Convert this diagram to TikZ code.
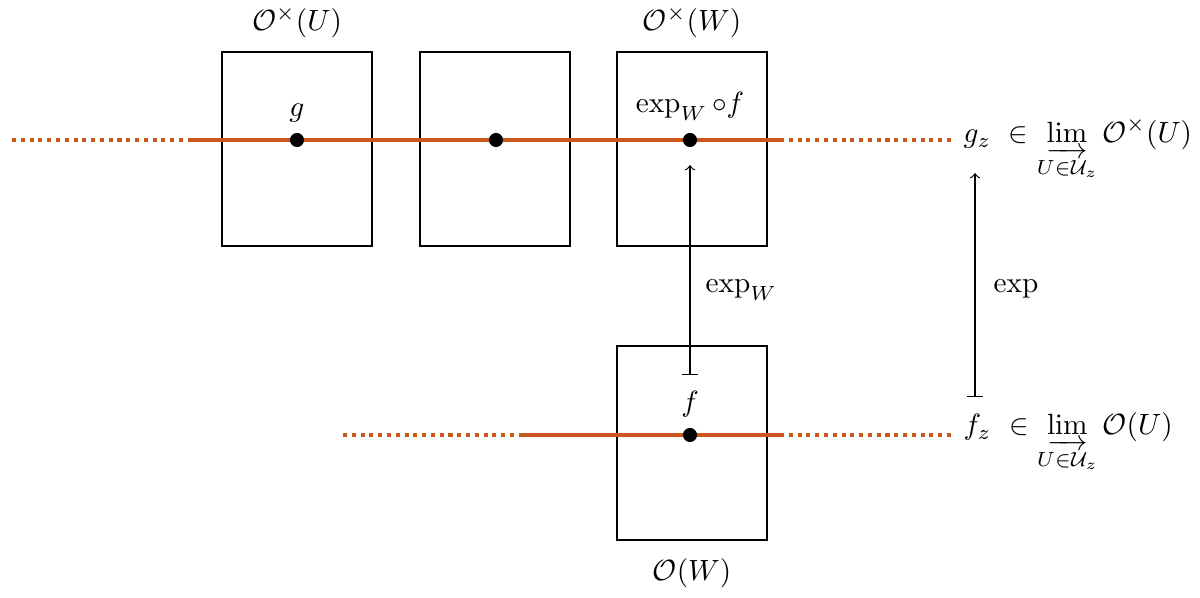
\documentclass[tikz,border=0pt]{standalone}
\usepackage{amsmath}
\usepackage{amssymb}
\usepackage{amsfonts}
\usetikzlibrary{arrows,calc,positioning}
\definecolor{germ}{RGB}{202,88,28}

\begin{document}
\begin{tikzpicture}[x=1.2cm,y=1.2cm]
\path [use as bounding box] (0,0) rectangle (12,5.98);
\tikzstyle{box} = [draw, thick, minimum width=1.8cm, minimum height=2.328cm, inner sep=0pt]
\tikzstyle{pt} = [circle, fill, inner sep=1.7pt]
\tikzstyle{germline} = [germ, line width=1.4pt]
\tikzstyle{tail} = [germ, line width=1.4pt, dash pattern=on 1.4pt off 1.6pt]
% the open sets
\node[box] (U1) at (2.97,4.49) {};
\node[box] (U2) at (4.95,4.49) {};
\node[box] (W1) at (6.92,4.49) {};
\node[box] (W0) at (6.92,1.55) {};
\node[above=1pt of U1] (OU) {$\mathcal{O}^\times(U)$};
\node[above=1pt of W1] (OW) {$\mathcal{O}^\times(W)$};
\node[below=2.5pt of W0] (OW0) {$\mathcal{O}(W)$};
% the germs
\coordinate (a1) at (0.12,4.58);
\coordinate (a2) at (1.90,4.58);
\coordinate (a3) at (7.80,4.58);
\coordinate (a4) at (9.55,4.58);
\coordinate (b1) at (3.43,1.63);
\coordinate (b2) at (5.20,1.63);
\coordinate (b3) at (7.80,1.63);
\coordinate (b4) at (9.55,1.63);
\draw[tail] (a1) -- (a2);
\draw[germline] (a2) -- (a3);
\draw[tail] (a3) -- (a4);
\draw[tail] (b1) -- (b2);
\draw[germline] (b2) -- (b3);
\draw[tail] (b3) -- (b4);
\node[pt] (g) at (2.97,4.58) {};
\node[pt] (h) at (4.96,4.58) {};
\node[pt] (ef) at (6.90,4.58) {};
\node[pt] (f) at (6.90,1.63) {};
\node[anchor=base] (gl) at ($(g)+(0,0.23)$) {$g$};
\node[anchor=base] (efl) at ($(ef)+(0,0.27)$) {$\exp_W\circ f$};
\node[anchor=base] (fl) at ($(f)+(0,0.23)$) {$f$};
% the maps
\coordinate (s1) at (6.90,2.23);
\coordinate (t1) at (6.90,4.33);
\coordinate (s2) at (9.75,2.01);
\coordinate (t2) at (9.75,4.25);
\draw[|->] (s1) -- (t1);
\draw[|->] (s2) -- (t2);
\node[anchor=base west, inner sep=0pt] (expW) at (7.05,3.05) {$\exp_W$};
\node[anchor=base west, inner sep=0pt] (exp) at (9.93,3.05) {$\exp$};
\node[anchor=base west, inner sep=0pt] (gz) at (9.63,4.55)
  {$g_z\ \in\displaystyle\varinjlim_{U\in\mathcal{U}_z}\mathcal{O}^\times(U)$};
\node[anchor=base west, inner sep=0pt] (fz) at (9.63,1.63)
  {$f_z\ \in\displaystyle\varinjlim_{U\in\mathcal{U}_z}\mathcal{O}(U)$};
\end{tikzpicture}
\end{document}
